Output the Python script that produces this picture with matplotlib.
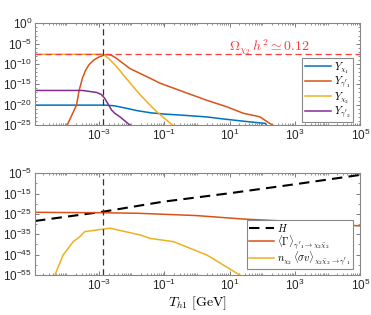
import numpy as np
import matplotlib
matplotlib.use('Agg')
import matplotlib.pyplot as plt
from matplotlib.ticker import FixedLocator, LogFormatterSciNotation, NullFormatter

plt.rcParams['font.family'] = ['Liberation Sans', 'DejaVu Sans']
plt.rcParams['mathtext.fontset'] = 'cm'

# colours (MATLAB defaults)
c_blue = '#0072BD'
c_orange = '#D95319'
c_yellow = '#EDB120'
c_purple = '#7E2F8E'

# x range and reference temperature (log10 GeV)
x_min, x_max = -4.95, 5.0
x_ref = -2.87
relic_Y = -7.62

# ---- top panel: yields (log10 values) ----
chi1_x = [-4.95, -2.8, -2.5, -2.2, -1.8, -1.4, -1.0, -0.4, 0.3, 0.8, 1.6, 2.1, 2.2]
chi1_y = [-20.1, -20.1, -20.3, -20.8, -21.5, -22.0, -22.3, -22.6, -23.0, -23.5, -24.2, -24.6, -26.0]

gam1_x = [-4.05, -3.68, -3.6, -3.5, -3.4, -3.3, -3.15, -3.0, -2.85, -2.72, -2.6, -2.46, -2.05,
          -1.74, -1.43, -1.13, -0.42, 0.3, 0.91, 1.42, 1.83, 1.93, 2.23, 2.45]
gam1_y = [-26.5, -20.1, -16.5, -13.5, -11.5, -10.2, -9.0, -8.3, -7.85, -7.65, -7.9, -8.6, -11.1,
          -12.3, -13.5, -14.7, -16.8, -18.9, -20.5, -22.1, -22.8, -23.0, -24.6, -25.6]

chi2_x = [-4.95, -2.87, -2.7, -2.46, -2.05, -1.74, -1.43, -1.23, -0.72, -0.65]
chi2_y = [-7.62, -7.62, -8.6, -10.6, -14.6, -17.5, -20.1, -21.7, -25.2, -25.8]

gam2_x = [-4.95, -3.49, -3.06, -2.92, -2.82, -2.71, -2.61, -2.51, -2.35, -2.05, -1.95]
gam2_y = [-16.5, -16.5, -17.0, -17.5, -18.4, -19.9, -21.3, -22.1, -23.0, -25.0, -25.6]

# ---- bottom panel: rates (log10 GeV) ----
H_x = [-4.95, -2.87, -1.04, 1.01, 3.05, 5.0]
H_y = [-28.45, -23.9, -19.0, -14.8, -10.3, -5.8]

Gam_x = [-4.95, -2.87, -1.74, -0.01, 1.41, 2.63, 5.0]
Gam_y = [-24.2, -24.4, -24.7, -25.8, -27.5, -28.45, -30.9]

nsv_x = [-4.40, -4.34, -4.09, -3.78, -3.58, -3.43, -2.66, -1.74, -1.43, -0.72, 0.31, 1.31, 1.4]
nsv_y = [-57.0, -55.0, -45.2, -38.6, -36.2, -33.7, -32.0, -35.3, -37.0, -38.6, -45.2, -55.0, -56.0]

top_yticks = [0, -5, -10, -15, -20, -25]
bot_yticks = [-5, -15, -25, -35, -45, -55]
x_ticks = [-3, -1, 1, 3, 5]

fig = plt.figure(figsize=(3.71, 3.15), dpi=100)
ax1 = fig.add_axes([0.0943, 0.603, 0.877, 0.323])
ax2 = fig.add_axes([0.0943, 0.127, 0.877, 0.323])
for ax in (ax1, ax2):
    ax.set_xscale('log')
    ax.set_yscale('log')

p = lambda v: 10.0 ** np.asarray(v)

lw = 1.1
ax1.plot(p(chi1_x), p(chi1_y), color=c_blue, lw=lw, label=r'$Y_{\chi_1}$')
ax1.plot(p(gam1_x), p(gam1_y), color=c_orange, lw=lw, label=r"$Y_{\gamma'_1}$")
ax1.plot(p(chi2_x), p(chi2_y), color=c_yellow, lw=lw, label=r'$Y_{\chi_2}$')
ax1.plot(p(gam2_x), p(gam2_y), color=c_purple, lw=lw, label=r"$Y_{\gamma'_2}$")
ax1.axhline(p(relic_Y), color='#FF3B3B', lw=0.9, dashes=(5, 3))
ax1.text(p(2.23), p(-5.9), r'$\Omega_{\chi_2}\,h^2 \simeq 0.12$', color='#FF3B3B',
         fontsize=10, ha='center', va='center')
ax1.set_ylim(1e-25, 1)
ax1.yaxis.set_major_locator(FixedLocator(p(top_yticks)))
ax1.yaxis.set_minor_locator(FixedLocator(p(np.arange(-25, 1))))

ax2.plot(p(H_x), p(H_y), color='black', lw=1.5, dashes=(5, 3), label=r'$H$')
ax2.plot(p(Gam_x), p(Gam_y), color=c_orange, lw=lw,
         label=r"$\langle\Gamma\rangle_{\gamma'_1\to\chi_2\bar{\chi}_2}$")
ax2.plot(p(nsv_x), p(nsv_y), color=c_yellow, lw=lw,
         label=r"$n_{\chi_2}\,\langle\sigma v\rangle_{\chi_2\bar{\chi}_2\to\gamma'_1}$")
ax2.set_ylim(1e-55, 1e-5)
ax2.yaxis.set_major_locator(FixedLocator(p(bot_yticks)))
ax2.yaxis.set_minor_locator(FixedLocator(p(np.arange(-55, -4, 5))))
ax2.set_xlabel(r'$T_{h1}\ [\mathrm{GeV}]$', fontsize=10, labelpad=1)

minor_x = [m * 10.0 ** d for d in range(-5, 6) for m in range(1, 10)]
for ax in (ax1, ax2):
    ax.set_xlim(p(x_min), p(x_max))
    ax.axvline(p(x_ref), color='#333333', lw=0.9, dashes=(5, 3))
    ax.xaxis.set_major_locator(FixedLocator(p(x_ticks)))
    ax.xaxis.set_minor_locator(FixedLocator(minor_x))
    ax.xaxis.set_major_formatter(LogFormatterSciNotation())
    ax.yaxis.set_major_formatter(LogFormatterSciNotation())
    ax.xaxis.set_minor_formatter(NullFormatter())
    ax.yaxis.set_minor_formatter(NullFormatter())
    ax.tick_params(which='both', direction='in', top=True, right=True,
                   color='#666666', labelsize=8.5, labelcolor='#262626', pad=2)
    ax.tick_params(which='major', length=3, width=0.6)
    ax.tick_params(which='minor', length=1.6, width=0.5)
    for s in ax.spines.values():
        s.set_color('#888888')
        s.set_linewidth(0.8)

leg1 = ax1.legend(loc='lower right', bbox_to_anchor=(0.978, 0.03), fontsize=7.6,
                  fancybox=False, edgecolor='#888888', framealpha=1,
                  handlelength=2.5, labelspacing=-0.02, borderpad=0.2, handletextpad=0.3,
                  borderaxespad=0)
leg2 = ax2.legend(loc='lower right', bbox_to_anchor=(0.977, 0.056), fontsize=7.5,
                  fancybox=False, edgecolor='#888888', framealpha=1,
                  handlelength=2.4, labelspacing=-0.1, borderpad=0.2, handletextpad=0.3,
                  borderaxespad=0)
for leg in (leg1, leg2):
    leg.get_frame().set_linewidth(0.8)

fig.savefig('out.png', dpi=100)
